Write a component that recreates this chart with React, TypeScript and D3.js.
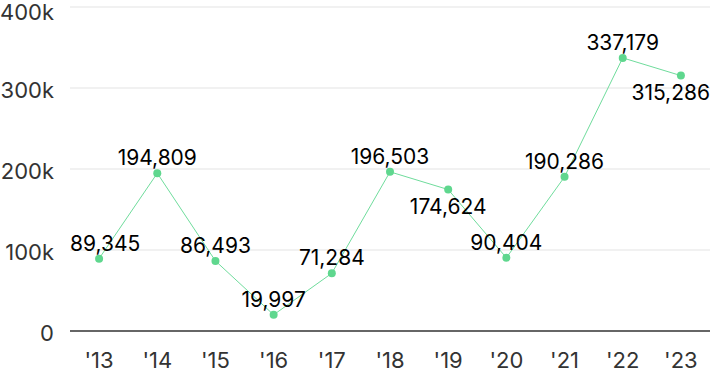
import React, { useRef, useEffect } from "react";
import * as d3 from "d3";

const years = ["'13", "'14", "'15", "'16", "'17", "'18", "'19", "'20", "'21", "'22", "'23"];
const values = [89345, 194809, 86493, 19997, 71284, 196503, 174624, 90404, 190286, 337179, 315286];
// which value labels sit under their point
const labelBelow = [false, false, false, false, false, false, true, false, false, false, true];
const yTicks = [0, 100000, 200000, 300000, 400000];

const App = () => {
	const chartRef = useRef<SVGSVGElement>(null);

	useEffect(() => {
		const width = 710;
		const height = 371;
		const margin = { top: 7, right: 0, bottom: 40, left: 70 };
		const font = "Inter, 'Noto Sans', sans-serif";

		const svg = d3.select(chartRef.current);
		svg.selectAll("*").remove();

		const x = d3
			.scalePoint()
			.domain(years)
			.range([margin.left, width - margin.right])
			.padding(0.5);

		const y = d3
			.scaleLinear()
			.domain([0, 400000])
			.range([height - margin.bottom, margin.top]);

		// grid
		svg
			.append("g")
			.selectAll("line")
			.data(yTicks)
			.enter()
			.append("line")
			.attr("x1", margin.left)
			.attr("x2", width - margin.right)
			.attr("y1", d => y(d))
			.attr("y2", d => y(d))
			.attr("stroke", d => (d === 0 ? "#333" : "#e3e3e3"))
			.attr("stroke-width", d => (d === 0 ? 1.5 : 1));

		// y labels
		svg
			.append("g")
			.selectAll("text")
			.data(yTicks)
			.enter()
			.append("text")
			.attr("x", 54)
			.attr("y", d => y(d) + (d === 400000 ? 5 : 2))
			.attr("dominant-baseline", "central")
			.attr("text-anchor", "end")
			.attr("fill", "#333")
			.attr("font-family", font)
			.attr("font-size", 22)
			.text(d => (d === 0 ? "0" : d / 1000 + "k"));

		// x labels
		svg
			.append("g")
			.selectAll("text")
			.data(years)
			.enter()
			.append("text")
			.attr("x", d => x(d)!)
			.attr("y", 368)
			.attr("text-anchor", "middle")
			.attr("fill", "#333")
			.attr("font-family", font)
			.attr("font-size", 22)
			.text(d => d);

		const pts = years.map((yr, i) => ({ yr, v: values[i], below: labelBelow[i] }));

		const line = d3
			.line<{ yr: string; v: number }>()
			.x(d => x(d.yr)!)
			.y(d => y(d.v));

		svg
			.append("path")
			.datum(pts)
			.attr("d", line)
			.attr("fill", "none")
			.attr("stroke", "#6fdc9c")
			.attr("stroke-width", 1);

		svg
			.append("g")
			.selectAll("circle")
			.data(pts)
			.enter()
			.append("circle")
			.attr("cx", d => x(d.yr)!)
			.attr("cy", d => y(d.v))
			.attr("r", 4)
			.attr("fill", "#5fd78e");

		// value labels, kept inside the plot
		const fmt = d3.format(",");
		const labels = svg
			.append("g")
			.selectAll("text")
			.data(pts)
			.enter()
			.append("text")
			.attr("x", d => x(d.yr)!)
			.attr("y", d => y(d.v) + (d.below ? 24 : -8))
			.attr("text-anchor", "middle")
			.attr("fill", "#000")
			.attr("font-family", font)
			.attr("font-size", 21)
			.text(d => fmt(d.v));

		labels.each(function (d) {
			const el = this as SVGTextElement;
			const w = el.getComputedTextLength();
			const cx = x(d.yr)!;
			let left = cx - w / 2;
			if (left < margin.left) left = margin.left;
			if (left + w > width) left = width - w;
			d3.select(el).attr("text-anchor", "start").attr("x", left);
		});
	}, []);

	return (
		<div style={{ position: "absolute", left: 0, top: 0 }}>
			<svg ref={chartRef} width={710} height={371} style={{ display: "block" }}></svg>
		</div>
	);
};

export default App;
